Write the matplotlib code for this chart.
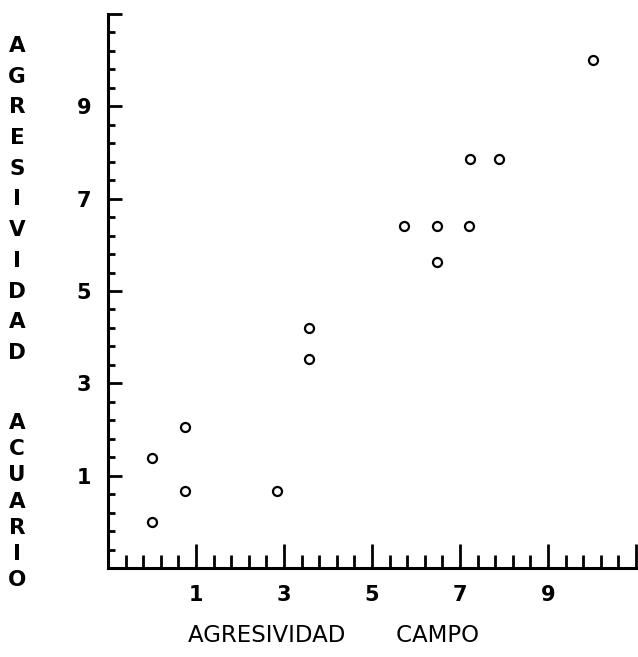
import numpy as np
import matplotlib
matplotlib.use("Agg")
import matplotlib.pyplot as plt

# agresividad en campo (x) vs agresividad en acuario (y)
campo = [0.0, 0.0, 0.75, 0.75, 2.85, 3.57, 3.57, 5.73, 6.47, 6.47, 7.2, 7.22, 7.89, 10.03]
acuario = [0.0, 1.38, 0.67, 2.05, 0.67, 4.2, 3.52, 6.41, 6.41, 5.62, 6.41, 7.87, 7.87, 10.0]

major_ticks = [1, 3, 5, 7, 9, 11]
major_labels = ["1", "3", "5", "7", "9", ""]
xlabel = "AGRESIVIDAD       CAMPO"
ylabel_top = "AGRESIVIDAD"
ylabel_bottom = "ACUARIO"

plt.rcParams['font.family'] = ['DejaVu Sans']

fig = plt.figure(figsize=(6.38, 6.57), dpi=100)
ax = fig.add_axes([108 / 638, 89 / 657, 528 / 638, 554 / 657])

ax.plot(campo, acuario, linestyle='none', marker='o', markersize=6.5,
        markerfacecolor='white', markeredgecolor='black', markeredgewidth=1.6)

ax.set_xlim(-1, 11)
ax.set_ylim(-1, 11)

for side in ['top', 'right']:
    ax.spines[side].set_visible(False)
for side in ['left', 'bottom']:
    ax.spines[side].set_linewidth(2.2)

minor = np.arange(-1, 11.01, 0.4)
ax.set_xticks(major_ticks)
ax.set_xticklabels(major_labels)
ax.set_yticks(major_ticks)
ax.set_yticklabels(major_labels)
ax.set_xticks(minor, minor=True)
ax.set_yticks(minor, minor=True)

ax.tick_params(axis='x', which='major', direction='in', length=17, width=2.0, pad=12,
               labelsize=15)
ax.tick_params(axis='x', which='minor', direction='in', length=9.5, width=2.0)
ax.tick_params(axis='y', which='major', direction='in', length=10, width=2.0, pad=12,
               labelsize=15)
ax.tick_params(axis='y', which='minor', direction='in', length=5, width=2.0)
for lab in ax.get_xticklabels() + ax.get_yticklabels():
    lab.set_fontweight('bold')

fig.text(334 / 638, 1 - 636 / 657, xlabel, ha='center', va='center', fontsize=16.5)

# letras apiladas del eje y
for i, ch in enumerate(ylabel_top):
    fig.text(17 / 638, 1 - (46 + 30.7 * i) / 657, ch, ha='center', va='center',
             fontsize=15.5, fontweight='bold')
for i, ch in enumerate(ylabel_bottom):
    fig.text(17 / 638, 1 - (423 + 26.2 * i) / 657, ch, ha='center', va='center',
             fontsize=15.5, fontweight='bold')

fig.savefig("out.png", dpi=100)
